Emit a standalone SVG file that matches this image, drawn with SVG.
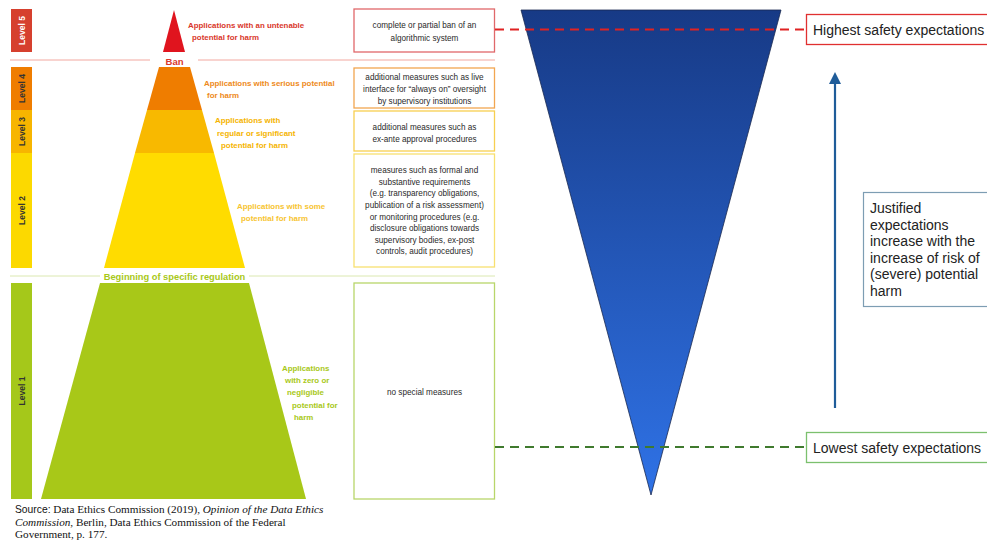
<svg xmlns="http://www.w3.org/2000/svg" width="987" height="541" viewBox="0 0 987 541">
<defs>
<linearGradient id="blueGrad" x1="0" y1="0" x2="0" y2="1">
<stop offset="0" stop-color="#173a86"/>
<stop offset="1" stop-color="#2f72e6"/>
</linearGradient>
<marker id="arrowBlue" viewBox="0 0 10 10" refX="5" refY="5" markerWidth="5.5" markerHeight="5.5" orient="auto-start-reverse" markerUnits="strokeWidth">
<path d="M0,0 L10,5 L0,10 z" fill="#1f5c99"/>
</marker>
<style>
.lvl{font-family:"Liberation Sans",Arial,sans-serif;font-weight:bold;font-size:8.5px;fill:#333333;text-anchor:middle}
.plab{font-family:"Liberation Sans",Arial,sans-serif;font-weight:bold;font-size:7.9px}
.btxt{font-family:"Liberation Sans",Arial,sans-serif;font-size:8.2px;fill:#2a2a2a;text-anchor:middle}
.box{fill:#ffffff;stroke-width:1.3}
.big{font-family:"Liberation Sans",Arial,sans-serif;font-size:14px;fill:#222222}
.src{font-family:"Liberation Serif","Times New Roman",serif;font-size:11.2px;fill:#111111}
.dash{fill:none;stroke-width:2.2;stroke-dasharray:9 6}
</style>
</defs>
<rect width="987" height="541" fill="#ffffff"/>

<!-- separator lines -->
<g id="separators">
<line x1="10" y1="60" x2="150" y2="60" stroke="#f2a8a0" stroke-width="1"/>
<line x1="198" y1="60" x2="495" y2="60" stroke="#f2a8a0" stroke-width="1"/>
<text x="174.5" y="64.5" text-anchor="middle" class="plab" style="font-size:9.5px" fill="#d9372b">Ban</text>
<line x1="10" y1="276" x2="100" y2="276" stroke="#dbe8b0" stroke-width="1"/>
<line x1="249" y1="276" x2="495" y2="276" stroke="#dbe8b0" stroke-width="1"/>
<text x="174.5" y="279.5" text-anchor="middle" class="plab" style="font-size:9.3px" fill="#a8c818">Beginning of specific regulation</text>
</g>

<!-- Level 5 -->
<g id="level5">
<rect x="11" y="9" width="21" height="43" fill="#d6402e"/>
<text class="lvl" style="fill:#fff" transform="translate(24.5,30.5) rotate(-90)">Level 5</text>
<polygon points="174,10 163,52 185,52" fill="#e0141e"/>
<text class="plab" fill="#d9372b"><tspan x="188" y="28">Applications with an untenable</tspan><tspan x="192" y="40">potential for harm</tspan></text>
</g>
<g id="box5">
<rect class="box" x="354" y="9" width="140.5" height="43" stroke="#e0686a"/>
<text class="btxt"><tspan x="424.5" y="28">complete or partial ban of an</tspan><tspan x="424.5" y="40.5">algorithmic system</tspan></text>
</g>

<!-- Level 4 -->
<g id="level4">
<rect x="11" y="67" width="21" height="43" fill="#ef7d00"/>
<text class="lvl" transform="translate(24.5,88.5) rotate(-90)">Level 4</text>
<polygon points="159,67 190,67 202,110 147,110" fill="#ef7d00"/>
<text class="plab" fill="#ee8a1a"><tspan x="204" y="86">Applications with serious potential</tspan><tspan x="207" y="98">for harm</tspan></text>
</g>
<g id="box4">
<rect class="box" x="354" y="68" width="140.5" height="40" stroke="#f2a650"/>
<text class="btxt"><tspan x="424.5" y="79.5">additional measures such as live</tspan><tspan x="424.5" y="91.5">interface for “always on” oversight</tspan><tspan x="424.5" y="103.5">by supervisory institutions</tspan></text>
</g>

<!-- Level 3 -->
<g id="level3">
<rect x="11" y="110" width="21" height="43" fill="#f7b500"/>
<text class="lvl" transform="translate(24.5,131.5) rotate(-90)">Level 3</text>
<polygon points="147,110 202,110 214,153 135,153" fill="#f8b900"/>
<text class="plab" fill="#f5b400"><tspan x="215" y="123">Applications with</tspan><tspan x="217" y="135.5">regular or significant</tspan><tspan x="221" y="147.5">potential for harm</tspan></text>
</g>
<g id="box3">
<rect class="box" x="354" y="111" width="140.5" height="40" stroke="#f7cf50"/>
<text class="btxt"><tspan x="424.5" y="130">additional measures such as</tspan><tspan x="424.5" y="141.5">ex-ante approval procedures</tspan></text>
</g>

<!-- Level 2 -->
<g id="level2">
<rect x="11" y="153" width="21" height="115" fill="#fcd900"/>
<text class="lvl" transform="translate(24.5,210.5) rotate(-90)">Level 2</text>
<polygon points="135,153 214,153 245,268 104,268" fill="#ffdc00"/>
<text class="plab" fill="#f7c430"><tspan x="237" y="209">Applications with some</tspan><tspan x="241" y="221">potential for harm</tspan></text>
</g>
<g id="box2">
<rect class="box" x="354" y="154" width="140.5" height="113" stroke="#f8e070"/>
<text class="btxt"><tspan x="424.5" y="173">measures such as formal and</tspan><tspan x="424.5" y="184.5">substantive requirements</tspan><tspan x="424.5" y="196">(e.g. transparency obligations,</tspan><tspan x="424.5" y="208">publication of a risk assessment)</tspan><tspan x="424.5" y="219.5">or monitoring procedures (e.g.</tspan><tspan x="424.5" y="231">disclosure obligations towards</tspan><tspan x="424.5" y="242.5">supervisory bodies, ex-post</tspan><tspan x="424.5" y="254">controls, audit procedures)</tspan></text>
</g>

<!-- Level 1 -->
<g id="level1">
<rect x="11" y="283" width="21" height="216" fill="#a5c81a"/>
<text class="lvl" transform="translate(24.5,391) rotate(-90)">Level 1</text>
<polygon points="100,283 249,283 306,499 41,499" fill="#a8c818"/>
<text class="plab" fill="#a8c818"><tspan x="282" y="371">Applications</tspan><tspan x="285" y="382.5">with zero or</tspan><tspan x="287" y="395">negligible</tspan><tspan x="292" y="407.5">potential for</tspan><tspan x="294" y="420">harm</tspan></text>
</g>
<g id="box1">
<rect class="box" x="354" y="283" width="140.5" height="216" stroke="#b8d66a"/>
<text class="btxt" x="424.5" y="395">no special measures</text>
</g>

<!-- source -->
<g id="source">
<text class="src" x="15" y="513"><tspan style="font-family:'Liberation Sans',Arial,sans-serif;font-size:10.3px">Source:</tspan> Data Ethics Commission (2019), <tspan font-style="italic">Opinion of the Data Ethics</tspan></text>
<text class="src" x="15" y="525.5"><tspan font-style="italic">Commission</tspan>, Berlin, Data Ethics Commission of the Federal</text>
<text class="src" x="15" y="538">Government, p. 177.</text>
</g>

<!-- inverted triangle -->
<g id="funnel">
<polygon points="521,10 781,10 651,495" fill="url(#blueGrad)" stroke="#1a2a50" stroke-width="0.8"/>
</g>

<!-- connectors -->
<g id="connectors">
<line class="dash" x1="495" y1="29.5" x2="806" y2="29.5" stroke="#e02222"/>
<line class="dash" x1="495" y1="447" x2="806" y2="447" stroke="#3f7a2e"/>
<line x1="835" y1="408" x2="835" y2="78" stroke="#1f5c99" stroke-width="2.2" marker-end="url(#arrowBlue)"/>
</g>

<g id="highest">
<rect x="806.5" y="14.5" width="190" height="30" fill="#ffffff" stroke="#e03030" stroke-width="1.3"/>
<text class="big" x="813" y="35">Highest safety expectations</text>
</g>
<g id="justified">
<rect x="863.5" y="192.5" width="130" height="114" fill="#ffffff" stroke="#7d9db3" stroke-width="1.2"/>
<text class="big"><tspan x="870" y="213">Justified</tspan><tspan x="870" y="229.5">expectations</tspan><tspan x="870" y="246">increase with the</tspan><tspan x="870" y="262.5">increase of risk of</tspan><tspan x="870" y="279">(severe) potential</tspan><tspan x="870" y="295.5">harm</tspan></text>
</g>
<g id="lowest">
<rect x="806.5" y="432.5" width="190" height="30" fill="#ffffff" stroke="#7cc06e" stroke-width="1.3"/>
<text class="big" x="813" y="452.5">Lowest safety expectations</text>
</g>
</svg>
